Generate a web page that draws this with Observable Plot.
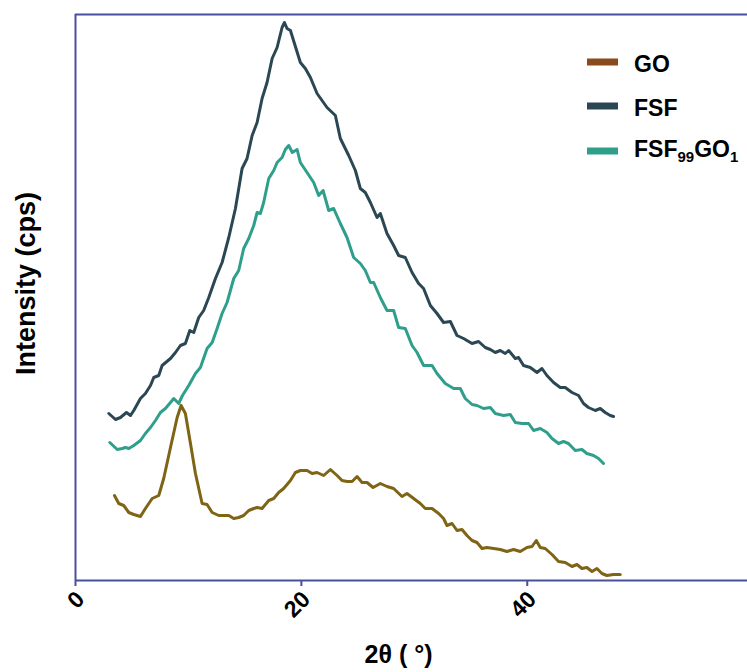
<!DOCTYPE html>
<html><head><meta charset="utf-8">
<script src="https://cdn.jsdelivr.net/npm/d3@7"></script>
<script src="https://cdn.jsdelivr.net/npm/@observablehq/plot@0.6"></script>
<style>body{margin:0;background:#fff;} #chart{width:747px;height:672px;overflow:hidden;}</style>
</head><body><div id="chart"></div>
<script>
// ---- data (2θ in degrees, intensity in arbitrary cps units) ----
const fsfX = [2.95,3.54,3.98,4.51,4.87,5.16,5.75,6.19,6.64,6.93,7.37,7.67,8.41,8.85,9.29,9.73,10.12,10.47,10.91,11.35,11.80,12.39,12.98,13.57,14.16,14.75,15.19,15.64,16.08,16.52,16.96,17.41,17.85,18.29,18.50,18.73,19.03,19.47,19.91,20.35,20.80,21.39,21.83,22.27,23.01,23.45,24.19,24.78,25.22,25.66,26.11,26.70,26.99,27.58,28.17,28.61,29.20,29.80,30.38,30.82,31.42,32.01,32.59,33.19,33.78,34.36,35.11,35.69,36.28,36.73,37.17,37.61,38.05,38.35,38.94,39.23,39.67,40.27,40.86,41.30,41.74,42.33,42.92,43.36,43.96,44.54,44.98,45.42,46.02,46.46,46.90,47.35,47.64];
const fsfY = [167,161,163,168,165,170,182,187,195,203,205,215,222,228,235,237,250,248,263,270,283,302,318,343,372,412,422,445,458,482,498,522,533,553,558,552,550,534,518,512,503,487,480,473,465,442,425,410,392,388,378,363,367,347,335,325,323,308,297,292,275,267,258,259,245,242,237,239,233,231,228,230,227,230,222,223,215,213,208,212,205,198,193,193,188,185,177,173,170,172,168,165,164];

const fsfgoX = [3.04,3.69,4.13,4.42,4.72,5.16,5.75,6.19,6.64,7.08,7.52,7.96,8.41,8.70,9.14,9.47,10.03,10.62,11.06,11.65,12.10,12.54,12.98,13.42,14.01,14.45,14.89,15.34,15.78,16.08,16.37,16.66,17.11,17.55,17.85,18.29,18.58,18.88,19.20,19.62,19.91,20.50,21.09,21.53,21.92,22.42,22.86,23.45,24.04,24.63,25.22,25.66,26.11,26.40,26.99,27.58,28.17,28.61,29.20,29.80,30.24,30.82,31.57,32.01,32.74,33.48,34.07,34.51,35.11,35.55,36.13,36.73,37.17,37.90,38.50,38.94,39.53,40.12,40.56,41.15,41.74,42.19,42.77,43.21,43.65,44.25,44.84,45.28,45.87,46.31,46.75];
const fsfgoY = [138,131,132,133,132,135,140,147,153,160,168,172,178,182,177,185,195,207,213,232,238,252,267,278,302,310,332,342,355,368,367,378,402,410,418,423,431,435,428,431,418,408,398,385,390,370,372,357,343,323,317,310,298,298,283,270,270,253,252,235,228,215,215,207,197,192,192,182,176,175,172,173,167,165,166,158,157,157,150,152,148,142,137,139,137,130,131,127,125,122,117];

const goX = [3.45,3.83,4.27,4.72,5.16,5.75,6.19,6.79,7.37,7.81,8.41,9.00,9.35,9.73,10.18,10.62,11.21,11.65,12.10,12.68,13.12,13.57,14.01,14.45,14.89,15.34,15.78,16.08,16.52,17.11,17.55,17.99,18.43,19.03,19.47,19.91,20.50,20.95,21.39,21.97,22.57,23.16,23.60,24.04,24.49,24.93,25.37,25.81,26.35,26.99,27.58,28.17,28.91,29.35,29.94,30.53,30.97,31.57,32.15,32.59,32.89,33.34,33.78,34.22,34.66,35.11,35.55,35.99,36.43,37.02,37.61,38.20,38.79,39.38,39.97,40.42,40.80,41.15,41.59,42.19,42.77,43.36,43.96,44.40,44.84,45.28,45.73,46.17,46.61,47.05,47.64,48.23];
const goY = [85,77,75,68,66,64,72,82,85,102,133,163,175,167,137,107,77,76,68,65,65,65,62,63,65,70,72,73,72,80,82,88,92,100,108,110,110,107,108,105,111,105,100,99,99,104,98,98,93,97,94,92,84,87,82,77,72,72,67,62,55,57,50,51,45,40,38,32,33,32,31,29,31,29,33,34,40,33,32,26,19,18,14,16,12,13,9,12,7,5,6,6];

const seriesNames = ["GO", "FSF", "FSF99GO1"];
const lineColors = ["#7e6414", "#2c4754", "#2f9f8c"];
const legendSwatchColors = ["#8b4a1e", "#2c4754", "#2f9f8c"];
const xTicks = [0, 20, 40];
const xLabel = "2θ ( °)";
const yLabel = "Intensity (cps)";

// ---- build table ----
const rows = [];
[[goX, goY], [fsfX, fsfY], [fsfgoX, fsfgoY]].forEach(([xs, ys], k) => {
  xs.forEach((x, i) => rows.push({series: seriesNames[k], theta: x, intensity: ys[i]}));
});

const axisColor = "#4a4f9c";
const font = "'Liberation Sans', Arial, Helvetica, sans-serif";

const svg = Plot.plot({
  width: 747,
  height: 672,
  marginTop: 14,
  marginBottom: 92,
  marginLeft: 75,
  marginRight: 0,
  style: {fontFamily: font, background: "white", overflow: "visible"},
  x: {domain: [0, 59.5]},
  y: {domain: [0, 566], axis: null},
  color: {domain: seriesNames, range: lineColors},
  marks: [
    Plot.ruleY([0, 566], {stroke: axisColor, strokeWidth: 2}),
    Plot.ruleX([0], {stroke: axisColor, strokeWidth: 2}),
    Plot.axisX({ticks: xTicks, tickSize: 6, stroke: axisColor, strokeWidth: 2, tickFormat: () => "", label: null}),
    Plot.axisX({ticks: xTicks, tickSize: 0, tickPadding: 10, tickRotate: -45, fontSize: 23, fontWeight: "bold", fill: "black", dx: 5, dy: 5, label: null}),
    Plot.line(rows, {x: "theta", y: "intensity", z: "series", stroke: "series", strokeWidth: 3, strokeLinejoin: "round"}),
    Plot.text([yLabel], {frameAnchor: "left", textAnchor: "middle", rotate: -90, dx: -49, dy: -14, fontSize: 27, fontWeight: "bold", fill: "black"}),
    Plot.text([xLabel], {frameAnchor: "bottom", textAnchor: "middle", dx: -13, dy: 82, fontSize: 25, fontWeight: "bold", fill: "black"})
  ]
});

// ---- legend inside the plot ----
const lg = d3.select(svg).append("g").attr("font-family", font).attr("font-weight", "bold").attr("text-anchor", "start");
const legendRows = [
  {color: legendSwatchColors[0], cy: 62, base: 72, parts: [["GO", 0]]},
  {color: legendSwatchColors[1], cy: 106, base: 116, parts: [["FSF", 0]]},
  {color: legendSwatchColors[2], cy: 151, base: 157, parts: [["FSF", 0], ["99", 1], ["GO", 0], ["1", 1]]}
];
legendRows.forEach(r => {
  lg.append("rect").attr("x", 587).attr("y", r.cy - 3.5).attr("width", 31).attr("height", 7).attr("fill", r.color);
  const t = lg.append("text").attr("x", 634).attr("y", r.base).attr("font-size", 23).attr("fill", "black").attr("text-anchor", "start");
  r.parts.forEach(([s, sub]) => {
    const ts = t.append("tspan").text(s);
    if (sub) ts.attr("font-size", 15).attr("dy", 5);
    else if (t.selectAll("tspan").size() > 1) ts.attr("dy", -5);
  });
});

document.getElementById("chart").appendChild(svg);
</script>
</body></html>
